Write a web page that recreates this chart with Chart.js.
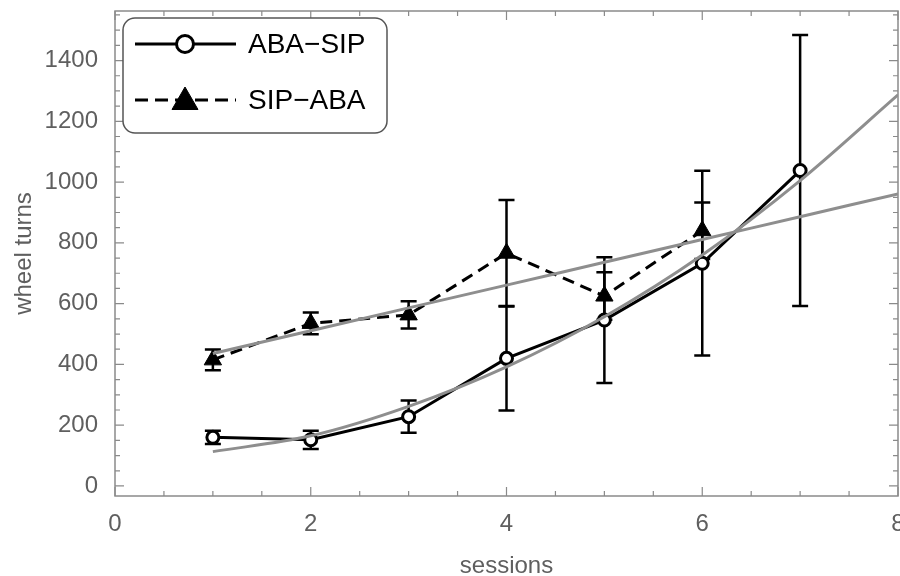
<!DOCTYPE html>
<html><head><meta charset="utf-8">
<script src="https://cdn.jsdelivr.net/npm/chart.js@4.4.1/dist/chart.umd.min.js"></script>
<style>
html,body{margin:0;padding:0;background:#fff;overflow:hidden}
#wrap{width:900px;height:576px;overflow:hidden;position:relative}
canvas{display:block}
</style>
</head><body>
<div id="wrap"><canvas id="c" width="920" height="576"></canvas></div>
<script>
// ---- data ----
const abaSipSessions = [1, 2, 3, 4, 5, 6, 7];
const abaSipMean = [160, 152, 228, 420, 546, 733, 1038];
const abaSipErr  = [22, 30, 53, 172, 207, 304, 446];

const sipAbaSessions = [1, 2, 3, 4, 5, 6];
const sipAbaMean = [415, 535, 563, 766, 625, 840];
const sipAbaErr  = [34, 36, 45, 175, 78, 93];

const fitSessions = [1, 2, 3, 4, 5, 6, 7, 8];
const abaSipFit = [113, 165, 262, 392, 557, 760, 1005, 1287];
const sipAbaFit = [436, 511, 586, 661, 736, 811, 886, 961];

const seriesNames = ['ABA\u2212SIP', 'SIP\u2212ABA'];
const xTickLabels = [0, 2, 4, 6, 8];
const yTickLabels = [0, 200, 400, 600, 800, 1000, 1200, 1400];
const xAxisTitle = 'sessions';
const yAxisTitle = 'wheel turns';

// ---- helpers ----
const FONT = "'Liberation Sans', Arial, sans-serif";
const LABEL_COLOR = '#5f5f5f';
const FRAME_COLOR = '#8a8a8a';
const pts = (xs, ys) => xs.map((x, i) => ({x: x, y: ys[i]}));

const errorBars = {
  id: 'errorBars',
  beforeDatasetsDraw(chart) {
    const {ctx, scales: {x, y}} = chart;
    const sets = [[abaSipSessions, abaSipMean, abaSipErr], [sipAbaSessions, sipAbaMean, sipAbaErr]];
    ctx.save();
    ctx.strokeStyle = '#000';
    ctx.lineWidth = 2.5;
    ctx.setLineDash([]);
    sets.forEach(([xs, ms, es]) => {
      xs.forEach((xv, i) => {
        const px = x.getPixelForValue(xv);
        const top = y.getPixelForValue(ms[i] + es[i]);
        const bot = y.getPixelForValue(ms[i] - es[i]);
        ctx.beginPath();
        ctx.moveTo(px, top); ctx.lineTo(px, bot);
        ctx.moveTo(px - 8, top); ctx.lineTo(px + 8, top);
        ctx.moveTo(px - 8, bot); ctx.lineTo(px + 8, bot);
        ctx.stroke();
      });
    });
    ctx.restore();
  }
};

const frame = {
  id: 'frame',
  beforeDatasetsDraw(chart) {
    const {ctx, chartArea: a, scales: {x, y}} = chart;
    ctx.save();
    ctx.strokeStyle = FRAME_COLOR;
    ctx.lineWidth = 1.5;
    ctx.strokeRect(a.left, a.top, a.right - a.left, a.bottom - a.top);
    ctx.lineWidth = 1.2;
    ctx.beginPath();
    x.ticks.forEach(t => {
      if (t.value < x.min || t.value > x.max) return;
      const px = x.getPixelForValue(t.value);
      const len = xTickLabels.includes(t.value) ? 9 : 5;
      ctx.moveTo(px, a.bottom); ctx.lineTo(px, a.bottom - len);
      ctx.moveTo(px, a.top); ctx.lineTo(px, a.top + len);
    });
    y.ticks.forEach(t => {
      if (t.value < y.min || t.value > y.max) return;
      const py = y.getPixelForValue(t.value);
      const len = yTickLabels.includes(t.value) ? 9 : 5;
      ctx.moveTo(a.left, py); ctx.lineTo(a.left + len, py);
      ctx.moveTo(a.right, py); ctx.lineTo(a.right - len, py);
    });
    ctx.stroke();
    ctx.restore();
  }
};

const boxLegend = {
  id: 'boxLegend',
  afterDraw(chart) {
    const {ctx} = chart;
    const bx = 123, by = 18, bw = 264, bh = 115, r = 12;
    ctx.save();
    ctx.beginPath();
    ctx.moveTo(bx + r, by);
    ctx.arcTo(bx + bw, by, bx + bw, by + bh, r);
    ctx.arcTo(bx + bw, by + bh, bx, by + bh, r);
    ctx.arcTo(bx, by + bh, bx, by, r);
    ctx.arcTo(bx, by, bx + bw, by, r);
    ctx.closePath();
    ctx.fillStyle = '#fff';
    ctx.fill();
    ctx.strokeStyle = '#555';
    ctx.lineWidth = 1.5;
    ctx.stroke();

    const rows = [
      {y: 44, dash: [], style: 'circle', rad: 8.5, fill: '#fff', bw: 3},
      {y: 100, dash: [13, 7], style: 'triangle', rad: 15, fill: '#000', bw: 1}
    ];
    rows.forEach((row, i) => {
      ctx.strokeStyle = '#000';
      ctx.lineWidth = 3;
      ctx.setLineDash(row.dash);
      ctx.beginPath();
      ctx.moveTo(135, row.y); ctx.lineTo(236, row.y);
      ctx.stroke();
      ctx.setLineDash([]);
      ctx.fillStyle = row.fill;
      ctx.lineWidth = row.bw;
      Chart.helpers.drawPoint(ctx, {pointStyle: row.style, radius: row.rad, rotation: 0, borderWidth: row.bw}, 185, row.y + (row.style === 'triangle' ? 2 : 0));
      ctx.fillStyle = '#000';
      ctx.font = '28px ' + FONT;
      ctx.textBaseline = 'middle';
      ctx.textAlign = 'left';
      ctx.fillText(seriesNames[i], 248, row.y + 1);
    });
    ctx.restore();
  }
};

new Chart(document.getElementById('c'), {
  type: 'line',
  data: {
    datasets: [
      {label: 'ABA-SIP fit', data: pts(fitSessions, abaSipFit), borderColor: '#8e8e8e', borderWidth: 3,
       pointRadius: 0, cubicInterpolationMode: 'monotone', order: 0},
      {label: 'SIP-ABA fit', data: pts(fitSessions, sipAbaFit), borderColor: '#8e8e8e', borderWidth: 3,
       pointRadius: 0, cubicInterpolationMode: 'monotone', order: 1},
      {label: seriesNames[0], data: pts(abaSipSessions, abaSipMean), borderColor: '#000', borderWidth: 3,
       pointStyle: 'circle', pointRadius: 6, pointBorderWidth: 3, pointBackgroundColor: '#fff', pointBorderColor: '#000',
       tension: 0, order: 2},
      {label: seriesNames[1], data: pts(sipAbaSessions, sipAbaMean), borderColor: '#000', borderWidth: 3,
       borderDash: [12, 7], pointStyle: 'triangle', pointRadius: 10, pointBorderWidth: 1,
       pointBackgroundColor: '#000', pointBorderColor: '#000', tension: 0, order: 3}
    ]
  },
  options: {
    responsive: false,
    animation: false,
    devicePixelRatio: 1,
    layout: {padding: {top: 11, right: 22, left: 0, bottom: 0}},
    plugins: {legend: {display: false}, tooltip: {enabled: false}},
    scales: {
      x: {
        type: 'linear', min: 0, max: 8,
        grid: {display: false}, border: {display: false},
        ticks: {stepSize: 0.5, autoSkip: false, maxRotation: 0, padding: 6, color: LABEL_COLOR,
                font: {family: FONT, size: 24},
                callback: v => xTickLabels.includes(v) ? String(v) : ''},
        title: {display: true, text: xAxisTitle, color: LABEL_COLOR, font: {family: FONT, size: 24},
                padding: {top: 0, bottom: -5}},
        afterFit: s => { s.height = 80; s.paddingLeft = 0; s.paddingRight = 0; }
      },
      y: {
        type: 'linear', min: -33, max: 1563,
        grid: {display: false}, border: {display: false},
        ticks: {stepSize: 50, autoSkip: false, includeBounds: false, padding: 9, color: LABEL_COLOR,
                font: {family: FONT, size: 24},
                callback: v => yTickLabels.includes(v) ? String(v) : ''},
        title: {display: true, text: yAxisTitle, color: LABEL_COLOR, font: {family: FONT, size: 24},
                padding: {top: 10, bottom: 0}},
        afterFit: s => { s.width = 115; s.paddingTop = 0; s.paddingBottom = 0; }
      }
    }
  },
  plugins: [frame, errorBars, boxLegend]
});
</script>
</body></html>
